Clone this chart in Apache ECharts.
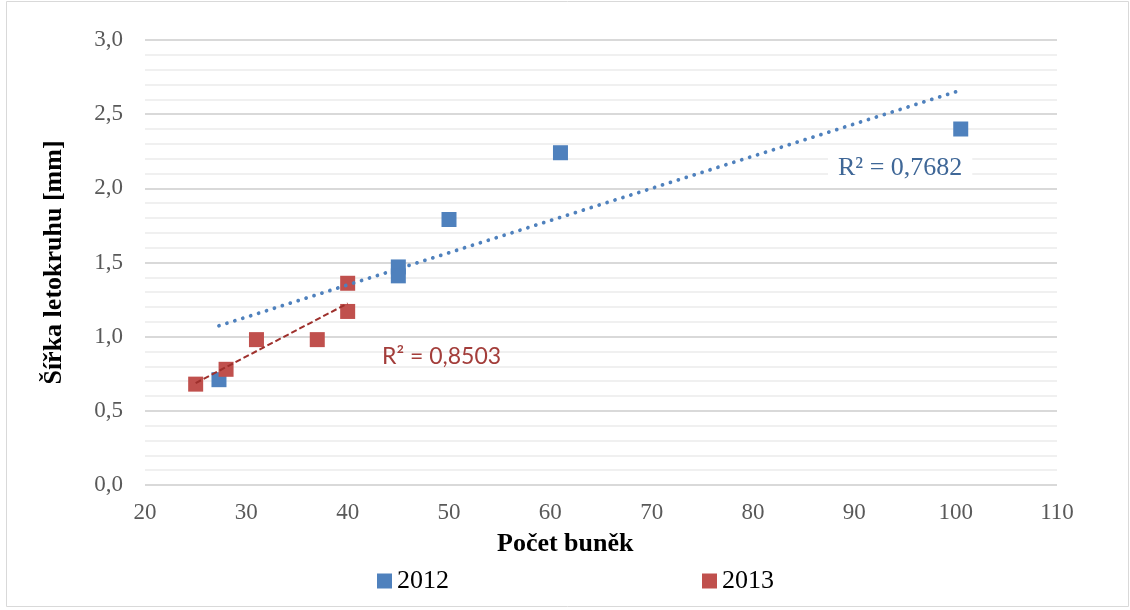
<!DOCTYPE html>
<html><head><meta charset="utf-8">
<script src="https://cdn.jsdelivr.net/npm/echarts@6/dist/echarts.min.js"></script>
<style>html,body{margin:0;padding:0;background:#fff}#c{width:1130px;height:610px}</style>
</head><body><div id="c"></div>
<script>
// Data
var years = ['2012', '2013'];
var cells2012 = [27.3, 45, 45, 50, 61, 100.5];
var width2012 = [0.71, 1.47, 1.41, 1.79, 2.24, 2.40];
var cells2013 = [25, 28, 31, 37, 40, 40];
var width2013 = [0.68, 0.78, 0.98, 0.98, 1.36, 1.17];
var r2Labels = ['R² = 0,7682', 'R² = 0,8503'];
var xTicks = [20, 30, 40, 50, 60, 70, 80, 90, 100, 110];
var yTicks = [0, 0.5, 1, 1.5, 2, 2.5, 3];

function pairs(xs, ys) { return xs.map(function (x, i) { return [x, ys[i]]; }); }
function trend(xs, ys) {
  var n = xs.length, mx = 0, my = 0;
  for (var i = 0; i < n; i++) { mx += xs[i]; my += ys[i]; }
  mx /= n; my /= n;
  var sxy = 0, sxx = 0;
  for (i = 0; i < n; i++) { sxy += (xs[i] - mx) * (ys[i] - my); sxx += (xs[i] - mx) * (xs[i] - mx); }
  var b = sxy / sxx, a = my - b * mx;
  var x0 = Math.min.apply(null, xs), x1 = Math.max.apply(null, xs);
  return [[x0, a + b * x0], [x1, a + b * x1]];
}

var serif = 'Liberation Serif';
var blue = '#4F81BD', red = '#C0504D';
var chart = echarts.init(document.getElementById('c'));
chart.setOption({
  animation: false,
  backgroundColor: '#fff',
  grid: { left: 145, right: 73, top: 40, bottom: 125, containLabel: false },
  xAxis: {
    type: 'value', min: xTicks[0], max: xTicks[xTicks.length - 1], interval: 10,
    axisLine: { show: false }, axisTick: { show: false },
    axisLabel: { fontFamily: serif, fontSize: 23, color: '#595959', margin: 16 },
    splitLine: { show: false }
  },
  yAxis: {
    type: 'value', min: yTicks[0], max: yTicks[yTicks.length - 1], interval: 0.5,
    name: 'Šířka letokruhu [mm]', nameLocation: 'middle', nameGap: 78,
    nameTextStyle: { fontFamily: serif, fontSize: 26, fontWeight: 'bold', color: '#000' },
    axisLine: { show: false }, axisTick: { show: false },
    axisLabel: { fontFamily: serif, fontSize: 23, color: '#595959', margin: 22,
      formatter: function (v) { return v.toFixed(1).replace('.', ','); } },
    splitLine: { show: true, lineStyle: { color: '#d9d9d9', width: 2 } },
    minorTick: { show: false, splitNumber: 5 },
    minorSplitLine: { show: true, lineStyle: { color: '#f0f0f0', width: 2 } }
  },
  legend: {
    data: years, left: 377, top: 568, itemGap: 253, itemWidth: 15, itemHeight: 15,
    icon: 'rect', padding: 0,
    textStyle: { fontFamily: serif, fontSize: 26, color: '#000' }
  },
  series: [
    { name: years[0], type: 'scatter', symbol: 'rect', symbolSize: 15, z: 2,
      itemStyle: { color: blue, opacity: 1 }, data: pairs(cells2012, width2012) },
    { name: years[1], type: 'scatter', symbol: 'rect', symbolSize: 15, z: 2,
      itemStyle: { color: red, opacity: 1 }, data: pairs(cells2013, width2013) },
    { name: 'trend2012', type: 'line', z: 3, symbol: 'none', silent: true,
      lineStyle: { color: blue, width: 3.8, type: [0.01, 8.3], cap: 'round' },
      data: trend(cells2012, width2012) },
    { name: 'trend2013', type: 'line', z: 3, symbol: 'none', silent: true,
      lineStyle: { color: '#9E302C', width: 2, type: [6, 3] },
      data: trend(cells2013, width2013) }
  ],
  graphic: [
    { type: 'rect', z: -1, shape: { x: 6.5, y: 1.5, width: 1122, height: 605 },
      style: { fill: 'none', stroke: '#d9d9d9', lineWidth: 1 } },
    { type: 'text', left: 497, top: 531, z: 10,
      style: { text: 'Počet buněk', font: 'bold 26px "Liberation Serif"', fill: '#000' } },
    { type: 'text', left: 828, top: 151, z: 10,
      style: { text: r2Labels[0], font: '26px "Liberation Serif"', fill: '#3F6797',
        backgroundColor: '#fff', padding: [4, 10, 4, 10] } },
    { type: 'text', left: 382, top: 345, z: 10,
      style: { text: r2Labels[1], font: '23px Lato', fill: '#A33D3A' } }
  ]
});
</script></body></html>
